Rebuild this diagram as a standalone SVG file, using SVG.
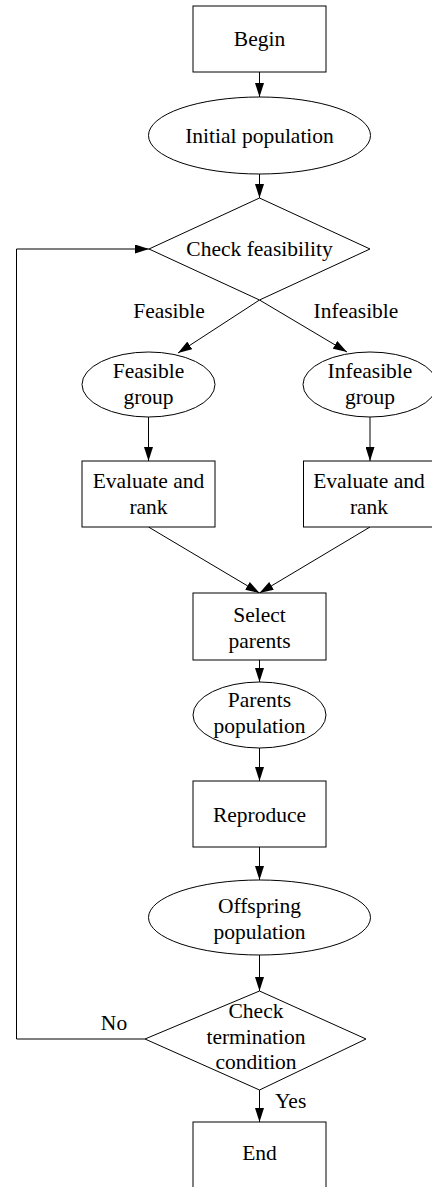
<svg xmlns="http://www.w3.org/2000/svg" width="432" height="1187" viewBox="0 0 432 1187">
<style>
.s{fill:#fff;stroke:#000;stroke-width:1}
.c{fill:none;stroke:#000;stroke-width:1}
.t{font-family:'Liberation Serif', 'DejaVu Serif', serif;font-size:21.5px;fill:#000;text-anchor:middle}
</style>
<defs>
<marker id="ah" markerUnits="userSpaceOnUse" markerWidth="14" markerHeight="9" refX="14" refY="4.5" orient="auto">
<path d="M0,0 L14,4.5 L0,9 z" fill="#000"/>
</marker>
</defs>
<rect width="432" height="1187" fill="#fff"/>
<g id="connectors">
<line class="c" x1="259.5" y1="72" x2="259.5" y2="97" marker-end="url(#ah)"/>
<line class="c" x1="259.5" y1="174" x2="259.5" y2="198" marker-end="url(#ah)"/>
<line class="c" x1="259.5" y1="300" x2="178" y2="353" marker-end="url(#ah)"/>
<line class="c" x1="259.5" y1="300" x2="347" y2="352" marker-end="url(#ah)"/>
<line class="c" x1="148.5" y1="417" x2="148.5" y2="461" marker-end="url(#ah)"/>
<line class="c" x1="370" y1="417" x2="370" y2="461" marker-end="url(#ah)"/>
<line class="c" x1="148.5" y1="527" x2="259.5" y2="593" marker-end="url(#ah)"/>
<line class="c" x1="370" y1="527" x2="259.5" y2="593" marker-end="url(#ah)"/>
<line class="c" x1="259.5" y1="660" x2="259.5" y2="682" marker-end="url(#ah)"/>
<line class="c" x1="259.5" y1="748" x2="259.5" y2="781" marker-end="url(#ah)"/>
<line class="c" x1="259.5" y1="847" x2="259.5" y2="880" marker-end="url(#ah)"/>
<line class="c" x1="259.5" y1="955" x2="259.5" y2="991" marker-end="url(#ah)"/>
<line class="c" x1="259.5" y1="1090" x2="259.5" y2="1122" marker-end="url(#ah)"/>
<polyline class="c" points="145,1039 16.5,1039 16.5,249 149,249" marker-end="url(#ah)"/>
<text class="t" x="169" y="318">Feasible</text>
<text class="t" x="356" y="318">Infeasible</text>
<text class="t" x="114" y="1030">No</text>
<text class="t" x="275" y="1108" style="text-anchor:start">Yes</text>
</g>
<g id="begin">
<rect class="s" x="193" y="6" width="133" height="66"/>
<text class="t" x="259.5" y="46">Begin</text>
</g>
<g id="initial">
<ellipse class="s" cx="259.5" cy="135.5" rx="111" ry="38.5"/>
<text class="t" x="259.5" y="143">Initial population</text>
</g>
<g id="check-feasibility">
<polygon class="s" points="259.5,198 370,249 259.5,300 149,249"/>
<text class="t" x="259.5" y="256">Check feasibility</text>
</g>
<g id="feasible-group">
<ellipse class="s" cx="148.5" cy="384.5" rx="66.5" ry="32.5"/>
<text class="t" x="148.5" y="378">Feasible</text>
<text class="t" x="148.5" y="404">group</text>
</g>
<g id="infeasible-group">
<ellipse class="s" cx="370" cy="384.5" rx="67" ry="32.5"/>
<text class="t" x="370" y="378">Infeasible</text>
<text class="t" x="370" y="404">group</text>
</g>
<g id="eval-feasible">
<rect class="s" x="82" y="461" width="133" height="66"/>
<text class="t" x="148.5" y="488">Evaluate and</text>
<text class="t" x="148.5" y="514">rank</text>
</g>
<g id="eval-infeasible">
<rect class="s" x="303.5" y="461" width="133" height="66"/>
<text class="t" x="369" y="488">Evaluate and</text>
<text class="t" x="369" y="514">rank</text>
</g>
<g id="select">
<rect class="s" x="193" y="593" width="133" height="67"/>
<text class="t" x="259.5" y="622">Select</text>
<text class="t" x="259.5" y="648">parents</text>
</g>
<g id="parents">
<ellipse class="s" cx="259.5" cy="715" rx="66.5" ry="33"/>
<text class="t" x="259.5" y="707">Parents</text>
<text class="t" x="259.5" y="733">population</text>
</g>
<g id="reproduce">
<rect class="s" x="193" y="781" width="133" height="66"/>
<text class="t" x="259.5" y="822">Reproduce</text>
</g>
<g id="offspring">
<ellipse class="s" cx="259.5" cy="917.5" rx="111" ry="37.5"/>
<text class="t" x="259.5" y="913">Offspring</text>
<text class="t" x="259.5" y="939">population</text>
</g>
<g id="check-termination">
<polygon class="s" points="259.5,991 366,1039 259.5,1090 145,1039"/>
<text class="t" x="256" y="1018">Check</text>
<text class="t" x="256" y="1044">termination</text>
<text class="t" x="256" y="1069">condition</text>
</g>
<g id="end">
<rect class="s" x="193" y="1122" width="133" height="66"/>
<text class="t" x="259.5" y="1160">End</text>
</g>
</svg>
